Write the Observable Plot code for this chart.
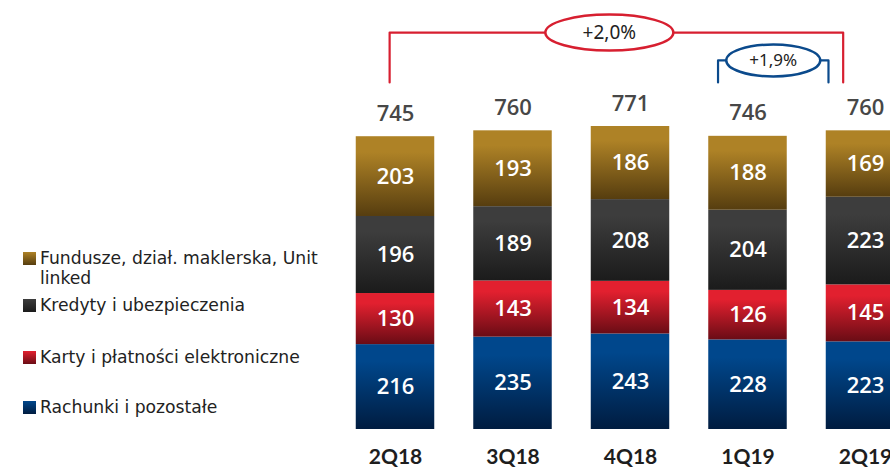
<!DOCTYPE html>
<html>
<head>
<meta charset="utf-8">
<script src="https://cdn.jsdelivr.net/npm/d3@7"></script>
<script src="https://cdn.jsdelivr.net/npm/@observablehq/plot@0.6"></script>
<style>
  html, body { margin: 0; padding: 0; overflow: hidden; background: #fff; }
  #wrap { position: relative; width: 890px; height: 467px; overflow: hidden; }
  #chart { position: absolute; left: 0; top: 0; }
  .leg { position: absolute; left: 23px; font-family: 'DejaVu Sans', sans-serif; font-size: 17.2px; color: #222; line-height: 20px; }
  .leg .sw { position: absolute; left: 0; top: 4px; width: 13px; height: 13px; }
  .leg .tx { position: absolute; left: 17px; white-space: nowrap; line-height: 18px; }
</style>
</head>
<body>
<div id="wrap"><div id="chart"></div></div>
<script>
// ---- data ----
const categories = ["2Q18", "3Q18", "4Q18", "1Q19", "2Q19"];
const seriesNames = ["Rachunki i pozostałe", "Karty i płatności elektroniczne", "Kredyty i ubezpieczenia", "Fundusze, dział. maklerska, Unit linked"];
const rachunki = [216, 235, 243, 228, 223];
const karty = [130, 143, 134, 126, 145];
const kredyty = [196, 189, 208, 204, 223];
const fundusze = [203, 193, 186, 188, 169];
const totals = [745, 760, 771, 746, 760];
const brackets = [
  {from: -0.05, to: 3.81, level: 1010, leg: 883, label: "+2,0%", color: "#d71f30", rx: 64, ry: 18, mid: 1.82},
  {from: 2.745, to: 3.685, level: 939, leg: 883, label: "+1,9%", color: "#0b4a8c", rx: 47, ry: 16, mid: 3.215}
];
const gradients = [
  {id: "gBlue", top: "#00478c", bottom: "#001c40"},
  {id: "gRed", top: "#e2202f", bottom: "#6a0c15"},
  {id: "gDark", top: "#3d3d3d", bottom: "#1b1b1b"},
  {id: "gGold", top: "#ae8226", bottom: "#563d0f"}
];

// ---- derived table ----
const seriesValues = [rachunki, karty, kredyty, fundusze];
const rows = [];
categories.forEach((c, i) => {
  let acc = 0;
  seriesValues.forEach((vals, s) => {
    rows.push({i, cat: c, series: seriesNames[s], value: vals[i], y1: acc, y2: acc + vals[i]});
    acc += vals[i];
  });
});
const totalRows = categories.map((c, i) => ({i, cat: c, total: totals[i]}));
const half = 0.334;

function ellipseSymbol(rx, ry) {
  const k = 0.5523;
  return {
    draw(ctx) {
      ctx.moveTo(rx, 0);
      ctx.bezierCurveTo(rx, ry * k, rx * k, ry, 0, ry);
      ctx.bezierCurveTo(-rx * k, ry, -rx, ry * k, -rx, 0);
      ctx.bezierCurveTo(-rx, -ry * k, -rx * k, -ry, 0, -ry);
      ctx.bezierCurveTo(rx * k, -ry, rx, -ry * k, rx, 0);
      ctx.closePath();
    }
  };
}

const bracketLines = brackets.flatMap((b, k) => [
  {k, x: b.from, y: b.leg}, {k, x: b.from, y: b.level}, {k, x: b.to, y: b.level}, {k, x: b.to, y: b.leg}
]);

const numFont = "'Open Sans', sans-serif";

const marks = [
  Plot.rect(rows, {x1: d => d.i - half, x2: d => d.i + half, y1: "y1", y2: "y2", fill: "series"}),
  Plot.text(rows, {x: "i", y: d => (d.y1 + d.y2) / 2, text: d => String(d.value), fill: "white",
    fontSize: 22, fontWeight: 600, fontFamily: numFont}),
  Plot.text(totalRows, {x: "i", y: "total", dy: -23, text: d => String(d.total), fill: "#474747",
    fontSize: 22, fontWeight: 600, fontFamily: numFont}),
  Plot.text(totalRows, {x: "i", y: 0, dy: 28, text: "cat", fill: "#1e1e1e",
    fontSize: 21, fontWeight: 700, fontFamily: "Lato, sans-serif"})
];
brackets.forEach((b, k) => {
  marks.push(Plot.line(bracketLines.filter(d => d.k === k), {x: "x", y: "y", stroke: b.color, strokeWidth: 2.2, curve: "linear"}));
  marks.push(Plot.dot([b], {x: "mid", y: "level", symbol: ellipseSymbol(b.rx, b.ry), r: 10, fill: "white", stroke: b.color, strokeWidth: 2.5}));
  marks.push(Plot.text([b], {x: "mid", y: "level", text: "label", fill: "#222", fontSize: k === 0 ? 19 : 17, fontFamily: "'Noto Sans', sans-serif"}));
});

const plot = Plot.plot({
  width: 890,
  height: 467,
  margin: 0,
  style: {background: "transparent", overflow: "hidden"},
  x: {type: "linear", domain: [0, 4], range: [395, 865], axis: null},
  y: {domain: [0, 1000], range: [429, 36], axis: null},
  color: {domain: seriesNames, range: gradients.map(g => `url(#${g.id})`)},
  marks
});

const defs = gradients.map(g => `<linearGradient id="${g.id}" x1="0" y1="0" x2="0" y2="1">
  <stop offset="0" stop-color="${g.top}"/><stop offset="0.2" stop-color="${g.top}"/><stop offset="1" stop-color="${g.bottom}"/></linearGradient>`).join("");
plot.insertAdjacentHTML("afterbegin", `<defs>${defs}</defs>`);
document.getElementById("chart").appendChild(plot);

// ---- legend (HTML) ----
const legendItems = [
  {s: 3, top: 248, lines: ["Fundusze, dział. maklerska, Unit", "linked"]},
  {s: 2, top: 295, lines: ["Kredyty i ubezpieczenia"]},
  {s: 1, top: 347, lines: ["Karty i płatności elektroniczne"]},
  {s: 0, top: 397, lines: ["Rachunki i pozostałe"]}
];
const wrap = document.getElementById("wrap");
legendItems.forEach(item => {
  const g = gradients[item.s];
  const el = document.createElement("div");
  el.className = "leg";
  el.style.top = item.top + "px";
  el.innerHTML = `<div class="sw" style="background:linear-gradient(${g.top},${g.bottom})"></div>` +
    item.lines.map((t, j) => `<div class="tx" style="top:${j * 20 + 1}px">${t}</div>`).join("");
  wrap.appendChild(el);
});
</script>
</body>
</html>
